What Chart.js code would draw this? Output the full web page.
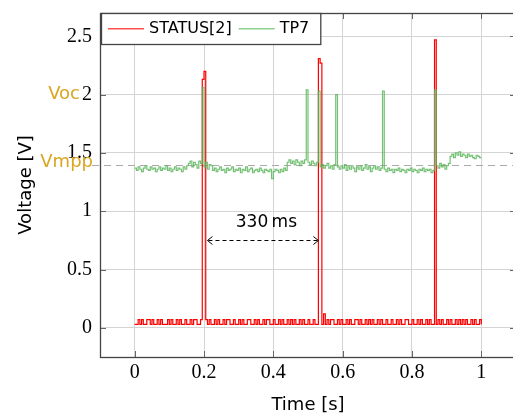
<!DOCTYPE html>
<html>
<head>
<meta charset="utf-8">
<script src="https://cdn.jsdelivr.net/npm/chart.js@4/dist/chart.umd.min.js"></script>
<style>
  html, body { margin: 0; padding: 0; background: #fff; overflow: hidden; }
  #wrap { width: 513px; height: 416px; overflow: hidden; }
</style>
</head>
<body>
<div id="wrap"><canvas id="scope" width="520" height="416"></canvas></div>
<script>
'use strict';

// amostras a cada 5 ms (0 .. 1 s)
const SAMPLE_STEP = 0.005;

const statusValues = [
    0.03, 0.03, 0.07, 0.03, 0.07, 0.03, 0.03, 0.07, 0.07, 0.03,
    0.07, 0.03, 0.03, 0.07, 0.03, 0.07, 0.03, 0.03, 0.03, 0.07,
    0.03, 0.07, 0.03, 0.03, 0.07, 0.03, 0.07, 0.03, 0.03, 0.07,
    0.03, 0.03, 0.07, 0.03, 0.07, 0.07, 0.03, 0.03, 0.07, 2.13,
    2.20, 0.07, 0.03, 0.07, 0.03, 0.03, 0.07, 0.03, 0.07, 0.03,
    0.03, 0.07, 0.03, 0.07, 0.07, 0.03, 0.03, 0.07, 0.03, 0.03,
    0.07, 0.03, 0.07, 0.03, 0.03, 0.07, 0.07, 0.03, 0.03, 0.07,
    0.03, 0.07, 0.03, 0.03, 0.07, 0.03, 0.07, 0.07, 0.03, 0.03,
    0.07, 0.03, 0.03, 0.07, 0.03, 0.07, 0.03, 0.03, 0.07, 0.03,
    0.07, 0.03, 0.07, 0.03, 0.03, 0.07, 0.03, 0.07, 0.03, 0.03,
    0.07, 0.03, 0.03, 0.07, 0.03, 0.03, 2.31, 2.27, 0.03, 0.12,
    0.03, 0.07, 0.03, 0.07, 0.07, 0.03, 0.03, 0.07, 0.03, 0.07,
    0.03, 0.03, 0.07, 0.03, 0.07, 0.03, 0.03, 0.07, 0.07, 0.03,
    0.07, 0.03, 0.03, 0.07, 0.03, 0.07, 0.03, 0.07, 0.03, 0.03,
    0.07, 0.03, 0.07, 0.03, 0.03, 0.07, 0.03, 0.03, 0.07, 0.03,
    0.03, 0.07, 0.03, 0.07, 0.03, 0.03, 0.07, 0.07, 0.03, 0.03,
    0.07, 0.03, 0.03, 0.07, 0.03, 0.07, 0.03, 0.03, 0.07, 0.03,
    0.07, 0.03, 0.03, 2.47, 0.03, 0.07, 0.03, 0.07, 0.03, 0.03,
    0.07, 0.03, 0.07, 0.03, 0.03, 0.07, 0.03, 0.07, 0.03, 0.07,
    0.03, 0.07, 0.03, 0.03, 0.07, 0.03, 0.07, 0.03, 0.03, 0.07,
    0.03
];

const tp7Values = [
    1.37, 1.35, 1.38, 1.36, 1.34, 1.37, 1.39, 1.36, 1.35, 1.38,
    1.36, 1.37, 1.34, 1.36, 1.38, 1.35, 1.37, 1.36, 1.39, 1.35,
    1.37, 1.34, 1.36, 1.38, 1.35, 1.37, 1.36, 1.34, 1.38, 1.36,
    1.39, 1.41, 1.43, 1.38, 1.42, 1.40, 1.37, 1.43, 1.41, 2.06,
    1.38, 1.42, 1.36, 1.40, 1.39, 1.35, 1.37, 1.34, 1.36, 1.38,
    1.35, 1.36, 1.33, 1.37, 1.35, 1.36, 1.38, 1.34, 1.36, 1.35,
    1.37, 1.33, 1.36, 1.35, 1.38, 1.34, 1.36, 1.37, 1.33, 1.35,
    1.36, 1.34, 1.37, 1.35, 1.33, 1.36, 1.35, 1.34, 1.36, 1.28,
    1.34, 1.36, 1.35, 1.33, 1.36, 1.34, 1.37, 1.35, 1.42, 1.44,
    1.41, 1.43, 1.40, 1.44, 1.42, 1.39, 1.43, 1.41, 1.44, 2.04,
    1.42, 1.40, 1.43, 1.41, 1.39, 1.42, 2.03, 1.38, 1.40, 1.37,
    1.39, 1.41, 1.37, 1.39, 1.36, 1.40, 2.00, 1.38, 1.36, 1.39,
    1.37, 1.40, 1.35, 1.38, 1.36, 1.39, 1.37, 1.34, 1.38, 1.36,
    1.39, 1.35, 1.37, 1.40, 1.36, 1.38, 1.34, 1.37, 1.39, 1.36,
    1.38, 1.35, 1.37, 2.03, 1.36, 1.34, 1.37, 1.35, 1.36, 1.33,
    1.36, 1.35, 1.37, 1.34, 1.36, 1.35, 1.33, 1.36, 1.35, 1.37,
    1.34, 1.36, 1.35, 1.33, 1.36, 1.35, 1.37, 1.34, 1.36, 1.35,
    1.36, 1.33, 1.35, 2.04, 1.39, 1.37, 1.41, 1.38, 1.40, 1.36,
    1.39, 1.41, 1.47, 1.49, 1.46, 1.50, 1.48, 1.51, 1.47, 1.49,
    1.48, 1.46, 1.49, 1.47, 1.48, 1.46, 1.45, 1.48, 1.47, 1.46,
    1.46
];

const seriesLabels = ['STATUS[2]', 'TP7'];
const xTickValues = [0, 0.2, 0.4, 0.6, 0.8, 1];
const yTickValues = [0, 0.5, 1, 1.5, 2, 2.5];

// níveis marcados no eixo y
const markerLabels = ['Voc', 'Vmpp'];
const markerValues = [2, 1.4];

// cota do período entre pulsos
const periodLabel = '330\u2009ms';
const periodStart = 0.21;
const periodEnd = 0.53;
const periodY = 0.75;
const periodTextX = 0.38;
const periodTextY = 0.9;

const COLORS = {
    status: '#ff0000',
    tp7: 'rgba(90, 182, 90, 0.85)',
    grid: '#d4d4d4',
    frame: '#444444',
    tick: '#666666',
    marker: '#daa520',
    vmppLine: '#aaaaaa',
};
const SERIES_COLORS = ['#ff5050', '#8fd08f'];

const SERIF = '"Liberation Serif", "DejaVu Serif", serif';
const SANS = '"DejaVu Sans", sans-serif';

const sampleTimes = statusValues.map((_, i) => +(i * SAMPLE_STEP).toFixed(3));

// linha tracejada do Vmpp, por baixo das curvas
const vmppPlugin = {
    id: 'vmpp',
    beforeDatasetsDraw(chart) {
        const { ctx, chartArea: a, scales: { y } } = chart;
        const py = Math.round(y.getPixelForValue(markerValues[1])) + 0.5;
        ctx.save();
        ctx.strokeStyle = COLORS.vmppLine;
        ctx.lineWidth = 1;
        ctx.setLineDash([7, 5]);
        ctx.beginPath();
        ctx.moveTo(a.left - 8, py);
        ctx.lineTo(a.right, py);
        ctx.stroke();
        ctx.restore();
    }
};

const decorPlugin = {
    id: 'decor',
    afterDatasetsDraw(chart) {
        const { ctx, chartArea: a, scales: { x, y } } = chart;
        const line = (x1, y1, x2, y2) => {
            ctx.beginPath(); ctx.moveTo(x1, y1); ctx.lineTo(x2, y2); ctx.stroke();
        };
        ctx.save();

        // seta 330 ms
        const ax1 = x.getPixelForValue(periodStart);
        const ax2 = x.getPixelForValue(periodEnd);
        const ay = Math.round(y.getPixelForValue(periodY)) + 0.5;
        ctx.strokeStyle = '#000';
        ctx.lineWidth = 1;
        ctx.setLineDash([4, 3]);
        line(ax1 + 1, ay, ax2 - 1, ay);
        ctx.setLineDash([]);
        line(ax1 + 5, ay - 4, ax1, ay); line(ax1, ay, ax1 + 5, ay + 4);
        line(ax2 - 5, ay - 4, ax2, ay); line(ax2, ay, ax2 - 5, ay + 4);
        ctx.fillStyle = '#000';
        ctx.font = '17px ' + SANS;
        ctx.textAlign = 'center';
        ctx.textBaseline = 'middle';
        ctx.fillText(periodLabel, x.getPixelForValue(periodTextX), y.getPixelForValue(periodTextY));

        // marcas de escala para dentro, nos quatro lados
        ctx.strokeStyle = COLORS.tick;
        ctx.lineWidth = 1;
        xTickValues.forEach(v => {
            const px = Math.round(x.getPixelForValue(v)) + 0.5;
            line(px, a.bottom, px, a.bottom - 6);
            line(px, a.top, px, a.top + 6);
        });
        yTickValues.forEach(v => {
            const py = Math.round(y.getPixelForValue(v)) + 0.5;
            line(a.left, py, a.left + 6, py);
            line(a.right, py, a.right - 6, py);
        });

        // moldura
        ctx.strokeStyle = COLORS.frame;
        ctx.lineWidth = 1.3;
        ctx.strokeRect(Math.round(a.left) + 0.5, Math.round(a.top) + 0.5,
            Math.round(a.right - a.left), Math.round(a.bottom - a.top));

        // Voc / Vmpp ao lado dos rótulos
        ctx.fillStyle = COLORS.marker;
        ctx.font = '18px ' + SANS;
        ctx.textAlign = 'right';
        ctx.textBaseline = 'middle';
        ctx.fillText(markerLabels[0], a.left - 20, y.getPixelForValue(markerValues[0]));
        ctx.fillText(markerLabels[1], a.left - 7, y.getPixelForValue(markerValues[1]) - 2);

        // legenda com caixa
        ctx.font = '16px ' + SANS;
        ctx.textAlign = 'left';
        const lx = Math.round(a.left) + 1;
        const ly = Math.round(a.top);
        const lh = 31;
        const cy = ly + 15;
        let cx = lx + 7;
        const spans = seriesLabels.map(text => {
            const start = cx;
            cx += 36 + 5 + ctx.measureText(text).width + 7;
            return start;
        });
        const lw = cx - lx + 4;
        ctx.fillStyle = '#fff';
        ctx.fillRect(lx, ly, lw, lh);
        ctx.strokeStyle = COLORS.frame;
        ctx.lineWidth = 1.3;
        ctx.strokeRect(lx + 0.5, ly + 0.5, lw, lh);
        seriesLabels.forEach((text, i) => {
            ctx.fillStyle = SERIES_COLORS[i];
            ctx.fillRect(spans[i], cy, 36, 1.5);
            ctx.fillStyle = '#000';
            ctx.fillText(text, spans[i] + 41, cy + 1);
        });

        ctx.restore();
    }
};

const ctx = document.getElementById('scope').getContext('2d');

new Chart(ctx, {
    type: 'line',
    data: {
        labels: sampleTimes,
        datasets: [
            {
                label: seriesLabels[0],
                data: statusValues,
                borderColor: COLORS.status,
                borderWidth: 1.2,
                stepped: true,
                pointRadius: 0,
                order: 2,
            },
            {
                label: seriesLabels[1],
                data: tp7Values,
                borderColor: COLORS.tp7,
                borderWidth: 1.2,
                stepped: true,
                pointRadius: 0,
                order: 1,
            },
        ]
    },
    options: {
        responsive: false,
        animation: false,
        layout: { padding: { top: 13, right: 4, left: 0, bottom: 0 } },
        plugins: {
            legend: { display: false },
            tooltip: { enabled: false },
        },
        scales: {
            x: {
                type: 'linear',
                min: -0.1,
                max: 1.1,
                afterBuildTicks: s => { s.ticks = xTickValues.map(v => ({ value: v })); },
                afterFit: s => { s.height = 59; s.paddingLeft = 0; s.paddingRight = 0; },
                grid: { color: COLORS.grid, drawTicks: false },
                border: { display: false },
                ticks: {
                    color: '#000',
                    font: { family: SERIF, size: 20 },
                    padding: 4,
                    maxRotation: 0,
                    autoSkip: false,
                    callback: v => String(v),
                },
                title: {
                    display: true,
                    text: 'Time [s]',
                    color: '#000',
                    font: { family: SANS, size: 18 },
                    padding: { top: 0, bottom: 0 },
                },
            },
            y: {
                min: -0.25,
                max: 2.7,
                afterBuildTicks: s => { s.ticks = yTickValues.map(v => ({ value: v })); },
                afterFit: s => { s.width = 100; s.paddingTop = 0; s.paddingBottom = 0; },
                grid: { color: COLORS.grid, drawTicks: false },
                border: { display: false },
                ticks: {
                    color: '#000',
                    font: { family: SERIF, size: 20 },
                    padding: 8,
                    autoSkip: false,
                    callback: v => String(v),
                },
                title: {
                    display: true,
                    text: 'Voltage [V]',
                    color: '#000',
                    font: { family: SANS, size: 18 },
                    padding: { top: 16, bottom: 0 },
                },
            },
        },
    },
    plugins: [vmppPlugin, decorPlugin],
});
</script>
</body>
</html>
